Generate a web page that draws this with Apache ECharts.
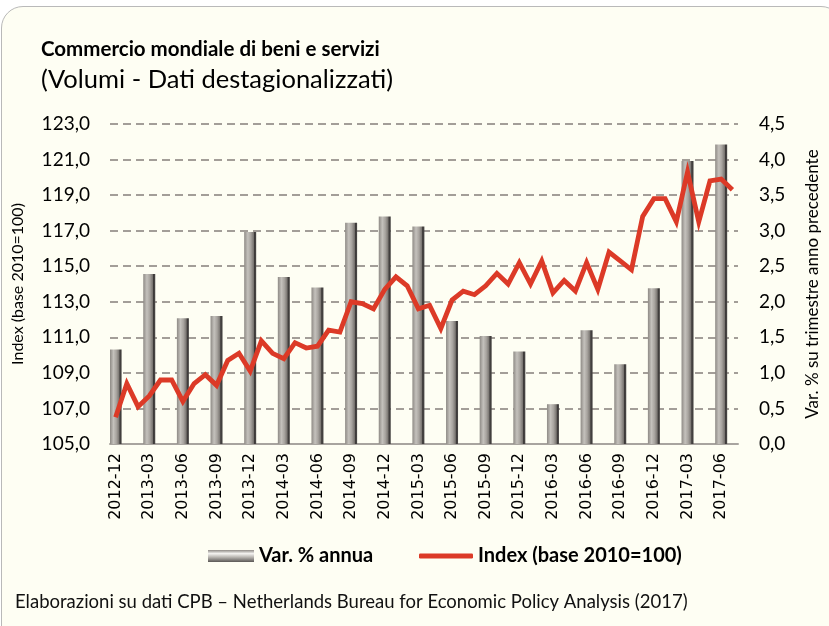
<!DOCTYPE html>
<html>
<head>
<meta charset="utf-8">
<script src="https://cdn.jsdelivr.net/npm/echarts@6/dist/echarts.min.js"></script>
<style>
    html, body { margin: 0; padding: 0; background: #ffffff; }
    #frame {
        position: absolute; left: 1px; top: 6px; width: 840px; height: 640px;
        background: #fefef3; border: 1.5px solid #b9b9b9; border-radius: 22px;
    }
    #chart { position: absolute; left: 0; top: 0; width: 829px; height: 626px; }
</style>
</head>
<body>
<div id="frame"></div>
<div id="chart"></div>
<script>
    // trimestri in etichetta
    const quarterLabels = ['2012-12', '2013-03', '2013-06', '2013-09', '2013-12', '2014-03', '2014-06',
        '2014-09', '2014-12', '2015-03', '2015-06', '2015-09', '2015-12', '2016-03', '2016-06',
        '2016-09', '2016-12', '2017-03', '2017-06'];

    // Var. % su trimestre anno precedente (asse destro)
    const varAnnua = [1.33, 2.39, 1.77, 1.80, 2.98, 2.35, 2.20, 3.11, 3.20, 3.06, 1.73, 1.52, 1.30,
        0.56, 1.60, 1.12, 2.19, 3.98, 4.21];

    // Index mensile (base 2010=100), da 2012-12 a 2017-07
    const indexMensile = [106.5, 108.4, 107.1, 107.7, 108.6, 108.6, 107.4, 108.4, 108.9, 108.3,
        109.7, 110.1, 109.1, 110.8, 110.1, 109.8, 110.7, 110.4, 110.5, 111.4,
        111.3, 113.0, 112.9, 112.6, 113.7, 114.4, 113.9, 112.6, 112.8, 111.5,
        113.1, 113.6, 113.4, 113.9, 114.6, 114.0, 115.2, 114.0, 115.3, 113.5,
        114.2, 113.6, 115.2, 113.7, 115.8, 115.3, 114.8, 117.8, 118.8, 118.8,
        117.5, 120.3, 117.5, 119.8, 119.9, 119.3];

    // asse mensile: ogni trimestre + i due mesi successivi
    const months = [];
    const barData = [];
    quarterLabels.forEach((q, i) => {
        let y = +q.slice(0, 4), m = +q.slice(5);
        for (let k = 0; k < 3; k++) {
            let mm = m + k, yy = y;
            if (mm > 12) { mm -= 12; yy += 1; }
            if (months.length < indexMensile.length) {
                months.push(yy + '-' + (mm < 10 ? '0' : '') + mm);
                barData.push(k === 0 ? varAnnua[i] : null);
            }
        }
    });

    const fmt = v => v.toFixed(1).replace('.', ',');
    const chart = echarts.init(document.getElementById('chart'));

    const barColor = new echarts.graphic.LinearGradient(0, 0, 1, 0, [
        {offset: 0, color: '#8e8a85'},
        {offset: 0.3, color: '#c4c1bc'},
        {offset: 0.55, color: '#a8a49f'},
        {offset: 0.78, color: '#7a7672'},
        {offset: 0.85, color: '#3d3a39'},
        {offset: 1, color: '#4a4746'}
    ]);
    const legendBar = new echarts.graphic.LinearGradient(0, 0, 0, 1, [
        {offset: 0, color: '#8e8a85'},
        {offset: 0.3, color: '#f4f3f0'},
        {offset: 0.6, color: '#b8b5b0'},
        {offset: 1, color: '#5a5755'}
    ]);
    const legendText = {fontFamily: 'Lato', fontWeight: 'bold', fontSize: 20, color: '#000'};

    const option = {
        animation: false,
        title: [{
            text: 'Commercio mondiale di beni e servizi',
            left: 36, top: 34,
            textStyle: {fontFamily: 'Lato', fontWeight: 'bold', fontSize: 20.5, color: '#000'}
        }, {
            text: '(Volumi - Dati destagionalizzati)',
            left: 36, top: 62,
            textStyle: {fontFamily: 'Lato', fontWeight: 'normal', fontSize: 25.5, color: '#000'}
        }, {
            text: 'Elaborazioni su dati CPB \u2013 Netherlands Bureau for Economic Policy Analysis (2017)',
            left: 10, top: 588,
            textStyle: {fontFamily: 'Lato', fontWeight: 'normal', fontSize: 18.5, color: '#111'}
        }],
        legend: [{
            left: 203,
            top: 541,
            itemWidth: 46,
            itemHeight: 12,
            textStyle: legendText,
            data: [{name: 'Var. % annua', icon: 'rect', itemStyle: {color: legendBar}}]
        }, {
            left: 414,
            top: 541,
            itemWidth: 54,
            itemHeight: 5,
            textStyle: legendText,
            data: [{name: 'Index (base 2010=100)', icon: 'roundRect', itemStyle: {color: '#dc3a27'}}]
        }],
        grid: {left: 110, right: 79, top: 124, bottom: 182},
        xAxis: {
            type: 'category',
            data: months,
            boundaryGap: true,
            axisTick: {show: false},
            axisLine: {lineStyle: {color: '#a8a49f', width: 2}},
            axisLabel: {
                interval: (idx) => idx % 3 === 0,
                rotate: 90,
                margin: 9,
                fontFamily: 'DejaVu Sans',
                fontSize: 16,
                color: '#000'
            }
        },
        yAxis: [{
            type: 'value',
            min: 105, max: 123, interval: 2,
            name: 'Index (base 2010=100)',
            nameLocation: 'middle',
            nameGap: 84,
            nameTextStyle: {fontFamily: 'Lato', fontSize: 16, color: '#000'},
            axisLine: {show: false},
            axisTick: {show: false},
            axisLabel: {formatter: fmt, margin: 20, fontFamily: 'Lato', fontSize: 19, color: '#000'},
            splitLine: {lineStyle: {color: '#a39e98', width: 2, type: [8, 5]}}
        }, {
            type: 'value',
            min: 0, max: 4.5, interval: 0.5,
            name: 'Var. % su trimestre anno precedente',
            nameLocation: 'middle',
            nameGap: 66,
            nameRotate: 90,
            nameTextStyle: {fontFamily: 'Lato', fontSize: 17, color: '#000'},
            axisLine: {show: false},
            axisTick: {show: false},
            axisLabel: {formatter: fmt, margin: 21, fontFamily: 'Lato', fontSize: 19, color: '#000'},
            splitLine: {show: false}
        }],
        series: [{
            name: 'Var. % annua',
            type: 'bar',
            yAxisIndex: 1,
            barWidth: 12,
            data: barData,
            itemStyle: {color: barColor}
        }, {
            name: 'Index (base 2010=100)',
            type: 'line',
            yAxisIndex: 0,
            data: indexMensile,
            symbol: 'none',
            z: 5,
            lineStyle: {color: '#dc3a27', width: 4.8, join: 'miter'},
            itemStyle: {color: '#dc3a27'}
        }]
    };

    chart.setOption(option);
    window.addEventListener('resize', () => {
        chart.resize();
    });
</script>
</body>
</html>
